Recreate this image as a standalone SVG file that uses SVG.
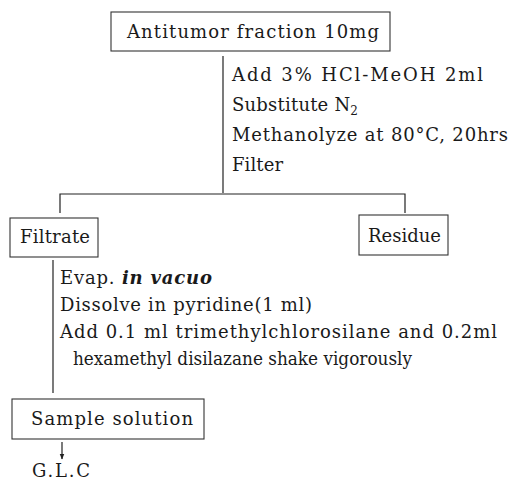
<svg xmlns="http://www.w3.org/2000/svg" width="511" height="482" viewBox="0 0 511 482">
<defs>
<style>
text{font-family:'DejaVu Serif','Liberation Serif',serif;font-size:18px;fill:#1a1a1a}
.box{fill:none;stroke:#333;stroke-width:1.1}
.ln{fill:none;stroke:#222;stroke-width:1.2}
.it{font-style:italic;font-weight:bold}
</style>
<marker id="ah" viewBox="0 0 10 10" refX="9" refY="5" markerWidth="6" markerHeight="6" orient="auto" markerUnits="userSpaceOnUse">
<path d="M0,1 L10,5 L0,9 z" fill="#222"/>
</marker>
</defs>
<rect width="511" height="482" fill="#fff"/>
<g id="connectors">
<line class="ln" x1="223" y1="56" x2="223" y2="193"/>
<polyline class="ln" points="60,213 60,194 405,194 405,213"/>
<line class="ln" x1="53" y1="260" x2="53" y2="393"/>
<line class="ln" x1="62" y1="442" x2="62" y2="459" marker-end="url(#ah)"/>
</g>
<g id="antitumor">
<rect class="box" x="111" y="12" width="279" height="39"/>
<text x="127" y="38" textLength="252" lengthAdjust="spacing">Antitumor fraction 10mg</text>
</g>
<g id="steps1">
<text x="232" y="81" textLength="251" lengthAdjust="spacing">Add 3% HCl-MeOH 2ml</text>
<text x="232" y="111" textLength="126" lengthAdjust="spacing">Substitute N<tspan font-size="12" dy="4">2</tspan></text>
<text x="232" y="141" textLength="276" lengthAdjust="spacing">Methanolyze at 80°C, 20hrs</text>
<text x="232" y="171" textLength="51" lengthAdjust="spacing">Filter</text>
</g>
<g id="filtrate">
<rect class="box" x="10" y="218" width="88" height="39"/>
<text x="20" y="243" textLength="70" lengthAdjust="spacing">Filtrate</text>
</g>
<g id="residue">
<rect class="box" x="359" y="215" width="89" height="40"/>
<text x="368" y="242" textLength="73" lengthAdjust="spacing">Residue</text>
</g>
<g id="steps2">
<text x="60" y="284" textLength="152" lengthAdjust="spacing">Evap. <tspan class="it">in vacuo</tspan></text>
<text x="60" y="311" textLength="252" lengthAdjust="spacing">Dissolve in pyridine(1 ml)</text>
<text x="60" y="338" textLength="437" lengthAdjust="spacing">Add 0.1 ml trimethylchlorosilane and 0.2ml</text>
<text x="73" y="365" textLength="339" lengthAdjust="spacingAndGlyphs">hexamethyl disilazane shake vigorously</text>
</g>
<g id="sample">
<rect class="box" x="12" y="399" width="192" height="40"/>
<text x="31" y="425" textLength="162" lengthAdjust="spacing">Sample solution</text>
</g>
<g id="glc">
<text x="32" y="477" font-size="19" textLength="58" lengthAdjust="spacing">G.L.C</text>
</g>
</svg>
